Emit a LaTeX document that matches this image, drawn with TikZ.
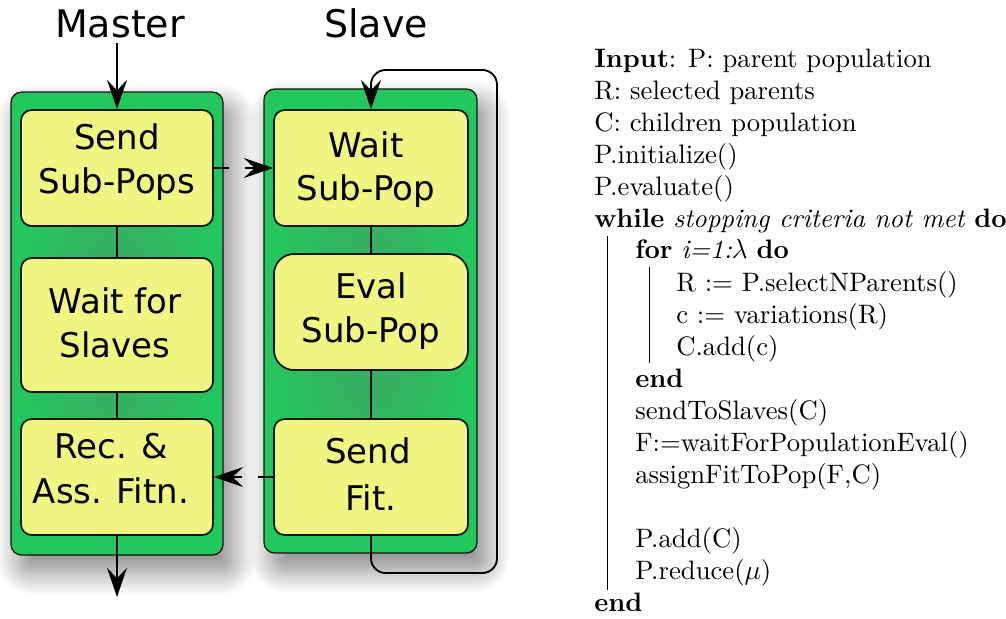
\documentclass[tikz,border=0pt]{standalone}
\usepackage{fontspec}
\newfontfamily\dejavu{DejaVu Sans}
\newfontfamily\algofont{lmroman10}[Extension=.otf, UprightFont=*-regular,
  BoldFont=*-bold, ItalicFont=*-italic, BoldItalicFont=*-bolditalic]
\usetikzlibrary{arrows.meta,fit,shadows.blur}
\definecolor{laneLight}{RGB}{34,200,92}
\definecolor{laneDark}{RGB}{62,166,100}
\definecolor{stepFill}{RGB}{241,246,130}
\definecolor{edge}{RGB}{20,20,20}

\begin{document}
\begin{tikzpicture}[x=0.75pt,y=-0.75pt,
  tip/.style={-{Stealth[length=22pt,width=15pt,inset=8pt]}},
  lane/.style={draw=edge, line width=1pt, rounded corners=8pt, inner sep=0pt,
    inner color=laneDark, outer color=laneLight,
    blur shadow={shadow xshift=7pt, shadow yshift=-12pt, shadow blur radius=18pt,
      shadow blur steps=30, shadow opacity=50}},
  stepbox/.style={draw=edge, line width=1.3pt, rounded corners=8pt, fill=stepFill, inner sep=0pt},
  evalbox/.style={stepbox, rounded corners=15pt},
  link/.style={draw=black, line width=1.4pt},
  gapped/.style={dash pattern=on 11.25pt off 12pt on 80pt},
  title/.style={font=\dejavu\fontsize{28.5}{34}\selectfont, anchor=base, inner sep=0pt},
  lbl/.style={font=\dejavu\fontsize{25.5}{30}\selectfont, anchor=base, inner sep=0pt},
  algo/.style={font=\algofont\fontsize{20}{24}\selectfont, anchor=base west, inner sep=0pt},
  rule/.style={line width=0.7pt}
]
\useasboundingbox (0,0) rectangle (1006,618);

% column titles
\node[title] (tMaster) at (120,37) {Master};
\node[title] (tSlave)  at (376,37) {Slave};

% lanes
\node[lane, fit={(11,92) (223,555)}]  (mLane) {};
\node[lane, fit={(264,89) (477,553)}] (sLane) {};

% master steps
\node[stepbox, fit={(21,110) (213,226)}] (m1) {};
\node[stepbox, fit={(21,258) (213,392)}] (m2) {};
\node[stepbox, fit={(21,419) (213,535)}] (m3) {};

% slave steps
\node[stepbox, fit={(274,110) (468,226)}] (s1) {};
\node[evalbox, fit={(274,254) (468,370)}] (s2) {};
\node[stepbox, fit={(274,419) (468,535)}] (s3) {};

% step labels
\node[lbl] (m1a) at (117,149) {Send};
\node[lbl] (m1b) at (117,193) {Sub-Pops};
\node[lbl] (m2a) at (115,313) {Wait for};
\node[lbl] (m2b) at (115,357) {Slaves};
\node[lbl] (m3a) at (111,458) {Rec. \&};
\node[lbl] (m3b) at (111,503) {Ass. Fitn.};
\node[lbl] (s1a) at (366,157) {Wait};
\node[lbl] (s1b) at (366,200) {Sub-Pop};
\node[lbl] (s2a) at (371,298) {Eval};
\node[lbl] (s2b) at (371,342) {Sub-Pop};
\node[lbl] (s3a) at (368,463) {Send};
\node[lbl] (s3b) at (371,510) {Fit.};

% master flow
\coordinate (mIn)  at (117,43);
\coordinate (mOut) at (117,597);
\draw[link,tip] (mIn) -- (m1.north);
\draw[link] (m1.south) -- (m2.north);
\draw[link] (m2.south) -- (m3.north);
\draw[link,tip] (m3.south) -- (mOut);

% slave flow and its loop
\coordinate (loopBR) at (497,573);
\coordinate (loopTR) at (497,70);
\draw[link] (s1.south) -- (s2.north);
\draw[link] (s2.south) -- (s3.north);
\draw[link,tip,rounded corners=11pt] (s3.south) |- (loopBR) -- (loopTR) -| (s1.north);

% messages between master and slave
\draw[link,tip,gapped] (m1.east) -- (s1.west);
\draw[link,tip,gapped] (s3.west) -- (m3.east);

% algorithm listing
\node[algo] (a1)  at (594,67)  {\textbf{Input}: P: parent population};
\node[algo] (a2)  at (594,99)  {R: selected parents};
\node[algo] (a3)  at (594,131) {C: children population};
\node[algo] (a4)  at (594,163) {P.initialize()};
\node[algo] (a5)  at (594,195) {P.evaluate()};
\node[algo] (a6)  at (594,227) {\textbf{while} \textit{stopping criteria not met} \textbf{do}};
\node[algo] (a7)  at (635,258) {\textbf{for} \textit{i=1:}$\lambda$ \textbf{do}};
\node[algo] (a8)  at (676,291) {R := P.selectNParents()};
\node[algo] (a9)  at (676,323) {c := variations(R)};
\node[algo] (a10) at (676,355) {C.add(c)};
\node[algo] (a11) at (635,387) {\textbf{end}};
\node[algo] (a12) at (635,419) {sendToSlaves(C)};
\node[algo] (a13) at (635,451) {F:=waitForPopulationEval()};
\node[algo] (a14) at (635,483) {assignFitToPop(F,C)};
\node[algo] (a15) at (635,547) {P.add(C)};
\node[algo] (a16) at (635,579) {P.reduce($\mu$)};
\node[algo] (a17) at (594,611) {\textbf{end}};

% block rules
\draw[rule] (607,236) -- (607,590);
\draw[rule] (649,267) -- (649,363);
\end{tikzpicture}
\end{document}
